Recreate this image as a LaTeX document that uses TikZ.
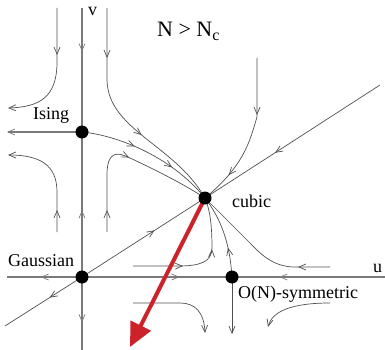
\documentclass[tikz,border=0pt]{standalone}
\usepackage{fontspec}
\setmainfont{Liberation Serif}
\usetikzlibrary{arrows.meta,decorations.markings}
\definecolor{FlowGray}{HTML}{505050}
\definecolor{AxisGray}{HTML}{7A7A7A}
\definecolor{RunRed}{HTML}{CC2229}

\begin{document}
\begin{tikzpicture}[
  x=1pt,y=-1pt,
  every node/.style={font=\fontsize{18}{20}\selectfont,inner sep=0pt},
  barb/.tip={Straight Barb[length=7pt,width=6pt,line width=0.7pt]},
  flow/.style={draw=FlowGray,line width=0.7pt},
  axis/.style={draw=AxisGray,line width=1.3pt},
  arrow at/.style={postaction={decorate,decoration={markings,
    mark=at position #1 with {\arrow{barb}}}}},
  fixpt/.style={circle,fill=black,minimum size=13pt},
  runaway/.style={draw=RunRed,line width=4pt,-{Triangle[length=24pt,width=22pt]}}
]
  \useasboundingbox (0,0) rectangle (385,350);

  % fixed points
  \coordinate (G) at (82,277);
  \coordinate (I) at (82,132);
  \coordinate (C) at (205,198);
  \coordinate (O) at (232,277);

  % axes
  \draw[axis,arrow at=0.35] (82,8) -- (I);
  \draw[axis,arrow at=0.46] (G) -- (I);
  \draw[axis,arrow at=0.62] (G) -- (82,350);
  \draw[axis,arrow at=0.55] (G) -- (7,277);
  \draw[axis,arrow at=0.65] (G) -- (O);
  \draw[axis,arrow at=0.69] (385,277) -- (O);
  \draw[axis,-barb] (I) -- (7,132);

  % diagonal
  \draw[flow,arrow at=0.42] (G) -- (5,326);
  \draw[flow,arrow at=0.59] (G) -- (C);
  \draw[flow,arrow at=0.6] (380,85) -- (C);

  % flow lines above the u axis
  \draw[flow,arrow at=47pt,-barb] (57,8) -- (57,62) .. controls (57,97) and (40,107) .. (8,108);
  \draw[flow,arrow at=50pt,arrow at=-90pt] (107,8) -- (107,80) .. controls (108,130) and (175,145) .. (C);
  \draw[flow,arrow at=-88pt,arrow at=-45pt] (I) .. controls (115,135) and (170,155) .. (C);
  \draw[flow,arrow at=22pt,-barb] (57,232) -- (57,192) .. controls (57,165) and (40,155) .. (8,155);
  \draw[flow,arrow at=22pt,arrow at=-86pt] (107,232) -- (107,175) .. controls (107,150) and (118,152) .. (130,158)
    .. controls (160,172) and (185,185) .. (C);
  \draw[flow,arrow at=57pt,arrow at=-33pt] (257,58) -- (257,117) .. controls (250,140) and (245,165) .. (C);
  \draw[flow,arrow at=50pt,arrow at=-52pt] (133,266) -- (178,266) .. controls (200,266) and (212,262) .. (212,248)
    .. controls (212,225) and (210,210) .. (C);
  \draw[flow,arrow at=0.35] (O) .. controls (230,245) and (222,220) .. (C);
  \draw[flow,arrow at=32pt] (330,267) -- (295,267) .. controls (275,267) and (262,256) .. (250,243) -- (C);

  % flow lines below the u axis
  \draw[flow,-barb] (133,303) -- (180,303) .. controls (195,303) and (204,312) .. (205,333);
  \draw[flow,-barb] (O) -- (232,334);
  \draw[flow,-barb] (330,303) .. controls (290,303) and (272,312) .. (268,327);

  % runaway direction
  \draw[runaway] (C) -- (130,347);

  \node[fixpt] (gauss) at (G) {};
  \node[fixpt] (ising) at (I) {};
  \node[fixpt] (cubic) at (C) {};
  \node[fixpt] (onsym) at (O) {};

  % labels
  \node[anchor=base west] (vlab) at (88,16) {v};
  \node[anchor=base west] (ulab) at (373,272) {u};
  \node[anchor=base west] (isinglab) at (33,120) {Ising};
  \node[anchor=base west] (gausslab) at (8,266) {Gaussian};
  \node[anchor=base west] (cubiclab) at (232,207) {cubic};
  \node[anchor=base west] (onlab) at (238,298) {O(N)-symmetric};
  \node[anchor=base west,font=\fontsize{22}{24}\selectfont] (title) at (157,37)
    {N > N\raisebox{-4pt}{\fontsize{16}{16}\selectfont c}};
\end{tikzpicture}
\end{document}
